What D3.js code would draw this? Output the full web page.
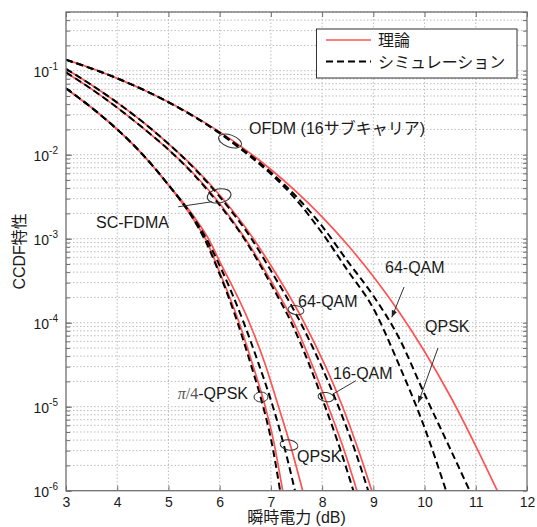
<!DOCTYPE html>
<html>
<head>
<meta charset="utf-8">
<script src="https://cdn.jsdelivr.net/npm/d3@7"></script>
<style>
body { margin: 0; background: #fff; }
text { font-family: "Liberation Sans", Arial, "Noto Sans CJK JP", sans-serif; fill: #1a1a1a; }
</style>
</head>
<body>
<div id="chart"></div>
<script>
// CCDF curves, [instantaneous power dB, CCDF]
const ofdmTheory = [[3,1.35e-1],[3.5,1.07e-1],[4,8.11e-2],[4.5,5.97e-2],[5,4.23e-2],[5.5,2.88e-2],[6,1.87e-2],[6.5,1.15e-2],[7,6.67e-3],[7.5,3.61e-3],[8,1.82e-3],[8.5,8.4e-4],[9,3.55e-4],[9.5,1.35e-4],[10,4.54e-5],[10.5,1.34e-5],[11,3.4e-6],[11.42,1e-6]]
const ofdmQpskSim = [[3,1.35e-1],[4,8.11e-2],[5,4.21e-2],[6,1.80e-2],[6.5,1.06e-2],[7,5.89e-3],[7.5,2.88e-3],[8,1.17e-3],[8.5,4.17e-4],[9,1.48e-4],[9.5,3.16e-5],[10,5.62e-6],[10.42,1e-6]]
const ofdm64qamSim = [[3,1.35e-1],[4,8.11e-2],[5,4.22e-2],[6,1.83e-2],[6.5,1.10e-2],[7,6.17e-3],[7.5,3.16e-3],[8,1.41e-3],[8.5,5.37e-4],[9,2.09e-4],[9.5,6.61e-5],[10,1.41e-5],[10.5,3.16e-6],[10.88,1e-6]]

const scPi4Theory = [[3,6.17e-2],[3.5,3.63e-2],[4,2.0e-2],[4.5,1.0e-2],[5,4.37e-3],[5.5,1.66e-3],[5.72,1e-3],[6,3.98e-4],[6.38,1e-4],[6.63,3.39e-5],[6.89,1e-5],[7.05,3.98e-6],[7.23,1e-6]]
const scPi4Sim = [[3,6.17e-2],[3.5,3.63e-2],[4,2.0e-2],[4.5,1.0e-2],[5,4.37e-3],[5.5,1.66e-3],[5.7,1e-3],[6,3.80e-4],[6.35,1e-4],[6.6,3.31e-5],[6.85,1e-5],[7,4.17e-6],[7.18,1e-6]]
const scQpskTheory = [[3,6.17e-2],[3.5,3.63e-2],[4,2.0e-2],[4.5,1.0e-2],[5,4.37e-3],[5.5,1.82e-3],[5.78,1e-3],[6,5.37e-4],[6.58,1e-4],[6.88,3.31e-5],[7.15,1e-5],[7.4,3.16e-6],[7.62,1e-6]]
const scQpskSim = [[3,6.17e-2],[3.5,3.63e-2],[4,2.0e-2],[4.5,1.0e-2],[5,4.37e-3],[5.5,1.74e-3],[5.74,1e-3],[6,4.79e-4],[6.47,1e-4],[6.75,3.39e-5],[7.04,1e-5],[7.25,3.55e-6],[7.47,1e-6]]
const sc16Theory = [[3,9.55e-2],[3.5,6.03e-2],[4,3.63e-2],[4.5,2.09e-2],[5,1.15e-2],[5.5,5.89e-3],[6,2.63e-3],[6.5,1e-3],[7,3.16e-4],[7.45,1e-4],[8.12,1e-5],[8.42,3.16e-6],[8.68,1e-6]]
const sc16Sim = [[3,9.55e-2],[3.5,6.03e-2],[4,3.63e-2],[4.5,2.09e-2],[5,1.15e-2],[5.5,5.75e-3],[6,2.51e-3],[6.48,1e-3],[7,2.88e-4],[7.4,1e-4],[8.06,1e-5],[8.35,3.16e-6],[8.61,1e-6]]
const sc64Theory = [[3,1.05e-1],[3.5,6.76e-2],[4,4.17e-2],[4.5,2.45e-2],[5,1.35e-2],[5.5,7.08e-3],[6,3.31e-3],[6.66,1e-3],[7,4.79e-4],[7.65,1e-4],[8.4,1e-5],[8.7,3.16e-6],[8.97,1e-6]]
const sc64Sim = [[3,1.05e-1],[3.5,6.76e-2],[4,4.17e-2],[4.5,2.45e-2],[5,1.35e-2],[5.5,6.92e-3],[6,3.16e-3],[6.62,1e-3],[7,4.17e-4],[7.58,1e-4],[8.32,1e-5],[8.63,3.16e-6],[8.9,1e-6]]

const xTicks = [3,4,5,6,7,8,9,10,11,12]
const yDecades = [1e-6,1e-5,1e-4,1e-3,1e-2,1e-1]
const yExponents = ["-6","-5","-4","-3","-2","-1"]
const legendLabels = ["理論", "シミュレーション"]

const theoryCurves = [ofdmTheory, scPi4Theory, scQpskTheory, sc16Theory, sc64Theory]
const simCurves = [ofdmQpskSim, ofdm64qamSim, scPi4Sim, scQpskSim, sc16Sim, sc64Sim]

const width = 537, height = 527
const plot = { left: 66, right: 527, top: 12, bottom: 490.7 }

const x = d3.scaleLinear().domain([3, 12]).range([plot.left, plot.right])
const y = d3.scaleLog().domain([1e-6, 0.5]).range([plot.bottom, plot.top])

const frameColor = "#6f6f6f"
const gridColor = "#bdbdbd"
const red = "#ff5252"

var svg = d3.select("#chart")
  .append("svg")
  .attr("width", width)
  .attr("height", height)

svg.append("defs").append("clipPath").attr("id", "clip")
  .append("rect")
  .attr("x", plot.left).attr("y", plot.top)
  .attr("width", plot.right - plot.left).attr("height", plot.bottom - plot.top)

svg.append("defs").append("marker")
  .attr("id", "arrow")
  .attr("viewBox", "0 0 10 10")
  .attr("refX", 10).attr("refY", 5)
  .attr("markerWidth", 7).attr("markerHeight", 7)
  .attr("markerUnits", "userSpaceOnUse")
  .attr("orient", "auto")
  .append("path")
  .attr("d", "M0,1L10,5L0,9Z")
  .attr("fill", "#222")

// grid
const minorY = y.ticks().filter(v => v <= 0.5)

svg.append("g")
  .selectAll("line")
  .data(xTicks.slice(1, -1))
  .enter()
  .append("line")
  .attr("x1", d => x(d)).attr("x2", d => x(d))
  .attr("y1", plot.top).attr("y2", plot.bottom)
  .attr("stroke", gridColor).attr("stroke-dasharray", "1.5,2")

svg.append("g")
  .selectAll("line")
  .data(minorY.filter(v => v > 1e-6))
  .enter()
  .append("line")
  .attr("x1", plot.left).attr("x2", plot.right)
  .attr("y1", d => y(d)).attr("y2", d => y(d))
  .attr("stroke", gridColor).attr("stroke-dasharray", "1.5,2")

// axes, ticks inside like the original
var xAxis = svg.append("g")
  .attr("transform", "translate(0," + plot.bottom + ")")
  .call(d3.axisBottom(x).tickValues(xTicks).tickSizeInner(-5).tickSizeOuter(0).tickPadding(6))
xAxis.select(".domain").remove()
xAxis.selectAll("line").attr("stroke", frameColor)
xAxis.selectAll("text").attr("font-size", 14).style("fill", "#1a1a1a")

var xTop = svg.append("g")
  .attr("transform", "translate(0," + plot.top + ")")
  .call(d3.axisTop(x).tickValues(xTicks).tickSizeInner(-5).tickSizeOuter(0).tickFormat(""))
xTop.select(".domain").remove()
xTop.selectAll("line").attr("stroke", frameColor)

var yAxis = svg.append("g")
  .attr("transform", "translate(" + plot.left + ",0)")
  .call(d3.axisLeft(y).tickValues(yDecades).tickSizeInner(-6).tickSizeOuter(0).tickPadding(8).tickFormat(""))
yAxis.select(".domain").remove()
yAxis.selectAll("line").attr("stroke", frameColor)
yAxis.selectAll(".tick text")
  .attr("dy", "0.62em")
  .each(function (d, i) {
    var t = d3.select(this)
    t.append("tspan").attr("font-size", 14).text("10")
    t.append("tspan").attr("font-size", 10).attr("dy", "-0.75em").text(yExponents[i])
  })

var yMinorL = svg.append("g")
  .attr("transform", "translate(" + plot.left + ",0)")
  .call(d3.axisLeft(y).tickValues(minorY).tickSizeInner(-4).tickSizeOuter(0).tickFormat(""))
yMinorL.select(".domain").remove()
yMinorL.selectAll("line").attr("stroke", frameColor)

var yRight = svg.append("g")
  .attr("transform", "translate(" + plot.right + ",0)")
  .call(d3.axisRight(y).tickValues(minorY).tickSizeInner(-4).tickSizeOuter(0).tickFormat(""))
yRight.select(".domain").remove()
yRight.selectAll("line").attr("stroke", frameColor)

// curves
const line = d3.line()
  .x(d => x(d[0]))
  .y(d => y(d[1]))
  .curve(d3.curveMonotoneX)

var curves = svg.append("g").attr("clip-path", "url(#clip)")

curves.selectAll(".theory")
  .data(theoryCurves)
  .enter()
  .append("path")
  .attr("class", "theory")
  .attr("d", line)
  .attr("fill", "none")
  .attr("stroke", red)
  .attr("stroke-width", 1.7)

curves.selectAll(".sim")
  .data(simCurves)
  .enter()
  .append("path")
  .attr("class", "sim")
  .attr("d", line)
  .attr("fill", "none")
  .attr("stroke", "#000")
  .attr("stroke-width", 2)
  .attr("stroke-dasharray", "7,4")

// frame
svg.append("rect")
  .attr("x", plot.left).attr("y", plot.top)
  .attr("width", plot.right - plot.left).attr("height", plot.bottom - plot.top)
  .attr("fill", "none")
  .attr("stroke", frameColor)
  .attr("stroke-width", 1.3)

// annotations (placed in data coordinates)
const at = (db, logp) => [x(db), y(Math.pow(10, logp))]

function label(txt, db, logp, anchor) {
  var p = at(db, logp)
  return svg.append("text")
    .attr("x", p[0]).attr("y", p[1])
    .attr("font-size", 16)
    .attr("text-anchor", anchor || "start")
    .text(txt)
}

function ring(db, logp, rx, ry, rot) {
  var p = at(db, logp)
  svg.append("ellipse")
    .attr("cx", 0).attr("cy", 0)
    .attr("rx", rx).attr("ry", ry)
    .attr("transform", "translate(" + p[0] + "," + p[1] + ")rotate(" + rot + ")")
    .attr("fill", "none")
    .attr("stroke", "#333")
    .attr("stroke-width", 1)
}

function link(db1, lp1, db2, lp2, arrow) {
  var a = at(db1, lp1), b = at(db2, lp2)
  var l = svg.append("line")
    .attr("x1", a[0]).attr("y1", a[1])
    .attr("x2", b[0]).attr("y2", b[1])
    .attr("stroke", "#333")
    .attr("stroke-width", 1)
  if (arrow) l.attr("marker-end", "url(#arrow)")
}

label("OFDM (16サブキャリア)", 6.573, -1.756)
ring(6.202, -1.837, 12, 6, 20)

label("SC-FDMA", 3.586, -2.869)
link(5.19, -2.62, 5.85, -2.56)
ring(5.99, -2.49, 12, 7, -10)

label("64-QAM", 7.53, -3.81)
ring(7.49, -3.85, 8, 4.5, 10)

label("16-QAM", 8.213, -4.676)
ring(8.076, -4.885, 8, 4.5, 10)
link(8.21, -4.85, 8.66, -4.69)

var pi = label("", 6.553, -4.908, "end")
pi.append("tspan").attr("font-family", "Liberation Serif, serif").attr("font-style", "italic").style("fill", "#555").text("π")
pi.append("tspan").attr("font-family", "Liberation Serif, serif").style("fill", "#555").text("/4")
pi.append("tspan").text("-QPSK")
ring(6.807, -4.885, 7, 5, 0)

label("QPSK", 7.51, -5.655)
ring(7.354, -5.456, 9, 5, 10)

label("64-QAM", 9.228, -3.408)
link(9.6, -3.575, 9.36, -3.936, true)

label("QPSK", 10.009, -4.111)
link(10.262, -4.301, 9.878, -4.952, true)

// legend
var legend = svg.append("g")
legend.append("rect")
  .attr("x", 316.5).attr("y", 29)
  .attr("width", 200.5).attr("height", 49)
  .attr("fill", "#fff")
  .attr("stroke", "#333")
  .attr("stroke-width", 1)

legend.selectAll("line")
  .data(legendLabels)
  .enter()
  .append("line")
  .attr("x1", 326).attr("x2", 371)
  .attr("y1", (d, i) => 40 + i * 21.5).attr("y2", (d, i) => 40 + i * 21.5)
  .attr("stroke", (d, i) => i == 0 ? red : "#000")
  .attr("stroke-width", (d, i) => i == 0 ? 1.7 : 2)
  .attr("stroke-dasharray", (d, i) => i == 0 ? null : "7,4")

legend.selectAll("text")
  .data(legendLabels)
  .enter()
  .append("text")
  .attr("x", 378)
  .attr("y", (d, i) => 46 + i * 21.5)
  .attr("font-size", 16)
  .text(d => d)

// axis titles
svg.append("text")
  .attr("x", (plot.left + plot.right) / 2)
  .attr("y", 523)
  .attr("text-anchor", "middle")
  .attr("font-size", 16)
  .text("瞬時電力 (dB)")

svg.append("text")
  .attr("text-anchor", "middle")
  .attr("font-size", 16)
  .attr("transform", "translate(25," + (plot.top + plot.bottom) / 2 + ")rotate(-90)")
  .text("CCDF特性")
</script>
</body>
</html>
